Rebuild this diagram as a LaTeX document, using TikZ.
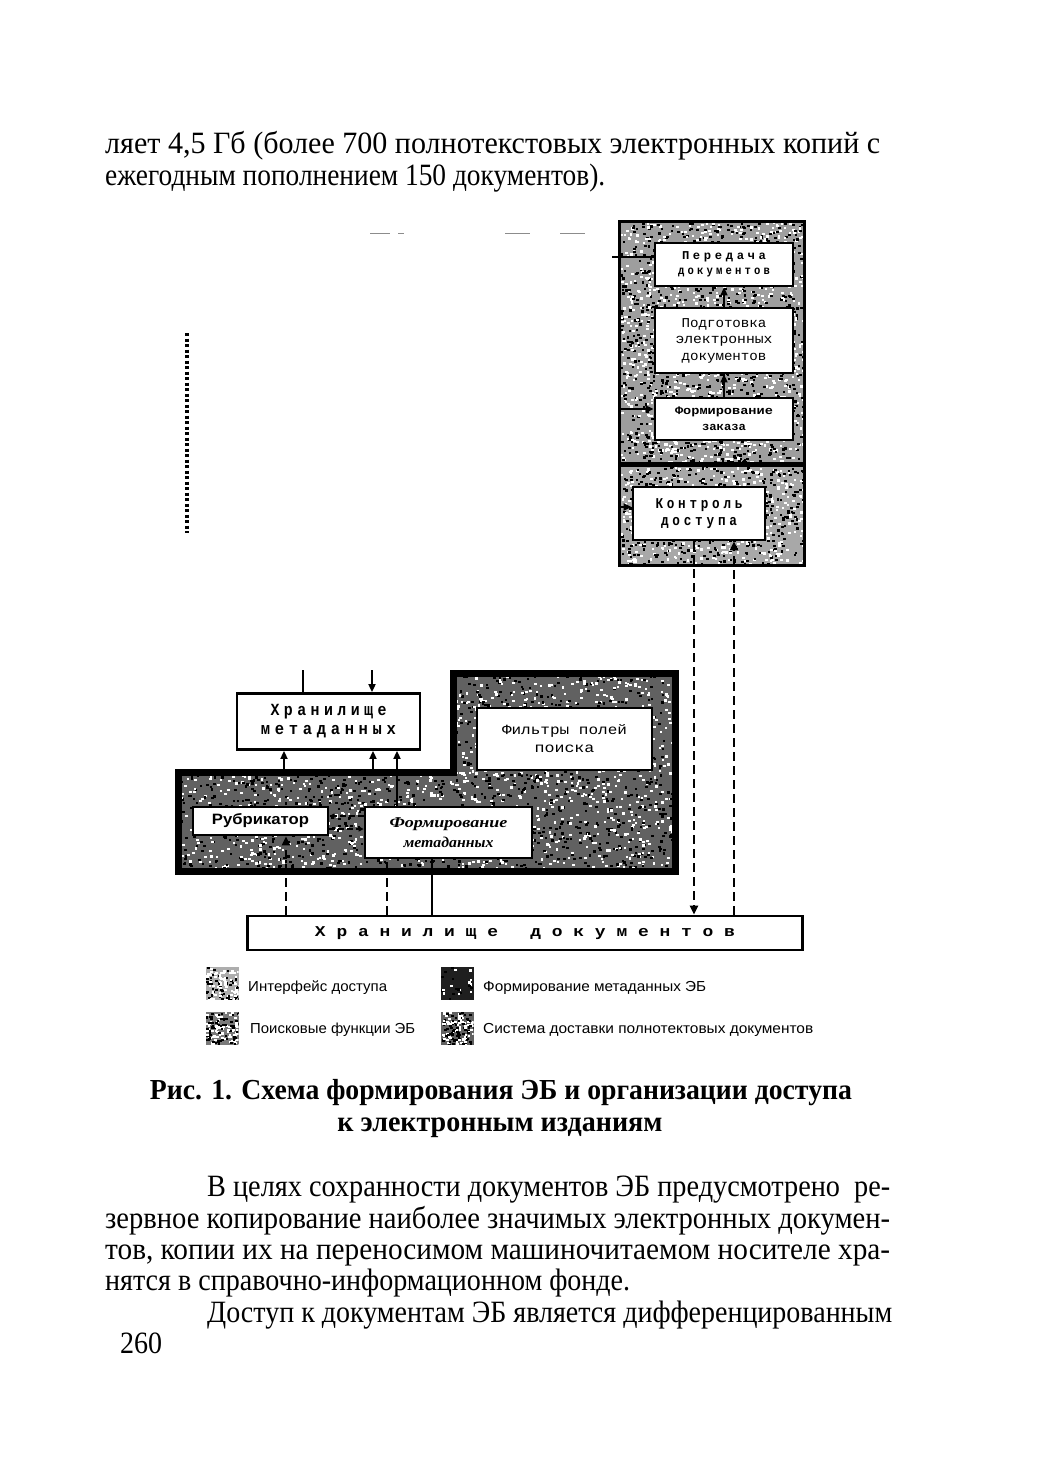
\documentclass[tikz,border=0pt]{standalone}
\usepackage{fontspec}
\usepackage{graphicx}
\setmainfont{Liberation Serif}
\setsansfont{Liberation Sans}
\newfontfamily\bodyF{Liberation Serif}
\newfontfamily\monoF{Liberation Mono}
\newfontfamily\monoL[LetterSpace=30]{Liberation Mono}
\usetikzlibrary{arrows.meta}

\newcommand\fw[2]{\resizebox{#1pt}{\height}{#2}}

\newcommand\speckle[5]{%
  \begin{scope}
  \clip (#1,#2) rectangle ++(#3,#4);
  \foreach \k in {1,...,#5}{%
    \pgfmathsetmacro\sx{#1+rnd*#3}%
    \pgfmathsetmacro\sy{#2+rnd*#4}%
    \pgfmathsetmacro\sc{rnd}%
    \ifdim\sc pt<0.5pt
      \fill[white] (\sx,\sy) rectangle ++(2.6,2.2);
    \else
      \fill[black] (\sx,\sy) rectangle ++(2.6,2.2);
    \fi
  }%
  \end{scope}}

\definecolor{delivC}{gray}{0.62}
\definecolor{ifaceC}{gray}{0.66}
\definecolor{metaC}{gray}{0.38}
\definecolor{swI}{gray}{0.68}
\definecolor{swS}{gray}{0.48}
\definecolor{swM}{gray}{0.12}
\definecolor{swD}{gray}{0.38}

\tikzset{
  box/.style={draw=black, line width=2.8pt, fill=white, inner sep=0pt, align=center},
  regb/.style={draw=black, line width=3pt},
  arr/.style={line width=1.8pt, -{Triangle[width=7pt,length=8pt]}},
  plain/.style={line width=1.8pt},
  dsh/.style={line width=2.6pt, dash pattern=on 9pt off 5pt},
  dsharr/.style={dsh, -{Triangle[width=8pt,length=9pt]}},
  smalldsh/.style={line width=2pt, dash pattern=on 6pt off 3pt, -{Triangle[width=5pt,length=5pt]}},
  body/.style={inner sep=0pt, anchor=base west, font=\bodyF\fontsize{31}{34}\selectfont},
  capt/.style={inner sep=0pt, anchor=base, font=\fontsize{29}{33}\selectfont\bfseries},
  legtxt/.style={inner sep=0pt, anchor=base west, font=\sffamily\fontsize{14.5}{17}\selectfont},
  swatch/.style={inner sep=0pt, minimum width=33pt, minimum height=33pt},
}

\begin{document}
\begin{tikzpicture}[x=1pt,y=-1pt]
\useasboundingbox[fill=white] (0,0) rectangle (1043,1465);
\pgfmathsetseed{7}

% ---------- body text above ----------
\node[body] (t1) at (105,153) {\fw{775}{ляет 4,5 Гб (более 700 полнотекстовых электронных копий с}};
\node[body] (t2) at (105,185) {\fw{500}{ежегодным пополнением 150 документов).}};

% ---------- scan artefacts ----------
\draw[black!45, line width=1pt] (370,233)--(390,233) (398,233)--(404,233) (505,233)--(530,233) (560,233)--(585,233);
\draw[line width=3.5pt, dash pattern=on 3pt off 2.5pt] (187,333) -- (187,533);

% ---------- right column regions ----------
\node[fill=delivC, inner sep=0pt, minimum width=184pt, minimum height=241pt] (deliv) at (712,342.5) {};
\speckle{620}{222}{184}{241}{2200}
\draw[regb] (deliv.north west) rectangle (deliv.south east);

\node[fill=ifaceC, inner sep=0pt, minimum width=184pt, minimum height=99pt] (iface) at (712,515.5) {};
\speckle{620}{466}{184}{99}{900}
\draw[regb] (iface.north west) rectangle (iface.south east);

% ---------- metadata L region ----------
\fill[metaC] (178,772) -- (453,772) -- (453,673) -- (675,673) -- (675,871) -- (178,871) -- cycle;
\begin{scope}
  \clip (178,772) -- (453,772) -- (453,673) -- (675,673) -- (675,871) -- (178,871) -- cycle;
  \speckle{178}{673}{497}{198}{3200}
\end{scope}
\draw[line width=7pt, line join=miter] (178,772) -- (453,772) -- (453,673) -- (675,673) -- (675,871) -- (178,871) -- cycle;

% ---------- boxes ----------
\node[box, minimum width=138pt, minimum height=43pt, font=\monoL\bfseries\fontsize{12}{15}\selectfont] (pered) at (724,264.5)
  {\fw{84}{Передача}\\\fw{92}{документов}};
\node[box, minimum width=138pt, minimum height=65pt, font=\monoF\fontsize{13.5}{16.5}\selectfont] (podg) at (724,340.5)
  {\fw{85}{Подготовка}\\\fw{97}{электронных}\\\fw{85}{документов}};
\node[box, minimum width=138pt, minimum height=42pt, font=\monoF\bfseries\fontsize{11.5}{16}\selectfont] (zakaz) at (724,419)
  {\fw{98}{Формирование}\\\fw{44}{заказа}};
\node[box, minimum width=132pt, minimum height=53pt, font=\monoL\bfseries\fontsize{15}{17}\selectfont] (kontr) at (699,513.5)
  {\fw{87}{Контроль}\\\fw{76}{доступа}};

\node[box, minimum width=183pt, minimum height=56pt, font=\monoL\bfseries\fontsize{17}{19}\selectfont] (hmeta) at (328.5,721.5)
  {\fw{116}{Хранилище}\\\fw{135}{метаданных}};
\node[box, minimum width=175pt, minimum height=62pt, font=\monoF\fontsize{14}{18}\selectfont] (filtr) at (564.5,739)
  {\fw{125}{Фильтры полей}\\\fw{60}{поиска}};
\node[box, minimum width=135pt, minimum height=28pt, font=\sffamily\bfseries\fontsize{15}{18}\selectfont] (rubr) at (260.5,821)
  {\fw{97}{Рубрикатор}};
\node[box, minimum width=167pt, minimum height=51pt, font=\bfseries\itshape\fontsize{15}{20}\selectfont] (fmeta) at (448.5,832.5)
  {\fw{118}{Формирование}\\\fw{90}{метаданных}};
\node[box, minimum width=555pt, minimum height=34pt, font=\monoF\bfseries\fontsize{15}{18}\selectfont] (hdoc) at (525,933)
  {\fw{420}{Х~р~а~н~и~л~и~щ~е~~~д~о~к~у~м~е~н~т~о~в}};

% ---------- connectors: right column ----------
\draw[arr] (podg.north) -- (pered.south);
\draw[arr] (zakaz.north) -- (podg.south);
\coordinate (inP) at (612,257);
\draw[plain] (inP) -- (inP -| pered.west);
\coordinate (inZ) at (618,409);
\draw[arr] (inZ) -- (inZ -| zakaz.west);
\coordinate (inK) at (618,507);
\draw[arr] (inK) -- (inK -| kontr.west);

\coordinate (xA) at (694,0);
\coordinate (xB) at (734,0);
\draw[dsharr] (kontr.south -| xA) -- (hdoc.north -| xA);
\draw[dsharr] (hdoc.north -| xB) -- (kontr.south -| xB);

% ---------- connectors: metadata ----------
\coordinate (o1) at (303,670);
\draw[plain] (hmeta.north -| o1) -- (o1);
\coordinate (i1) at (372,670);
\draw[arr] (i1) -- (i1 |- hmeta.north);
\coordinate (u1) at (284,772);
\draw[arr] (u1) -- (u1 |- hmeta.south);
\coordinate (u2) at (373,772);
\draw[arr] (u2) -- (u2 |- hmeta.south);
\coordinate (u3) at (397,0);
\draw[arr] (fmeta.north -| u3) -- (hmeta.south -| u3);

\coordinate (r1) at (0,816);
\coordinate (r2) at (0,829);
\draw[smalldsh] (fmeta.west |- r1) -- (rubr.east |- r1);
\draw[smalldsh] (rubr.east |- r2) -- (fmeta.west |- r2);

\coordinate (d1) at (286,0);
\coordinate (d2) at (387,0);
\coordinate (d3) at (432,0);
\draw[dsharr] (hdoc.north -| d1) -- (rubr.south -| d1);
\draw[dsh] (hdoc.north -| d2) -- (fmeta.south -| d2);
\draw[plain] (fmeta.south -| d3) -- (hdoc.north -| d3);

% ---------- legend ----------
\node[swatch, fill=swI] (sw1) at (222,983) {};
\speckle{205.5}{966.5}{33}{33}{120}
\node[swatch, fill=swS] (sw2) at (222,1028) {};
\speckle{205.5}{1011.5}{33}{33}{140}
\node[swatch, fill=swM] (sw3) at (457,983) {};
\speckle{440.5}{966.5}{33}{33}{25}
\node[swatch, fill=swD] (sw4) at (457,1028) {};
\speckle{440.5}{1011.5}{33}{33}{140}

\node[legtxt] (l1) at (248,991) {\fw{139}{Интерфейс доступа}};
\node[legtxt] (l2) at (250,1033) {\fw{165}{Поисковые функции ЭБ}};
\node[legtxt] (l3) at (483,991) {\fw{223}{Формирование метаданных ЭБ}};
\node[legtxt] (l4) at (483,1033) {\fw{330}{Система доставки полнотектовых документов}};

% ---------- caption ----------
\node[capt] (c1) at (501,1099) {\fw{702}{Рис. 1. Схема формирования ЭБ и организации доступа}};
\node[capt] (c2) at (500,1131) {\fw{325}{к электронным изданиям}};

% ---------- body text below ----------
\node[body] (p1) at (207,1196) {\fw{683}{В целях сохранности документов ЭБ предусмотрено \ ре-}};
\node[body] (p2) at (105,1228) {\fw{785}{зервное копирование наиболее значимых электронных докумен-}};
\node[body] (p3) at (105,1259) {\fw{785}{тов, копии их на переносимом машиночитаемом носителе хра-}};
\node[body] (p4) at (105,1290) {\fw{525}{нятся в справочно-информационном фонде.}};
\node[body] (p5) at (207,1322) {\fw{685}{Доступ к документам ЭБ является дифференцированным}};
\node[body] (pg) at (120,1353) {\fw{42}{260}};
\end{tikzpicture}
\end{document}
